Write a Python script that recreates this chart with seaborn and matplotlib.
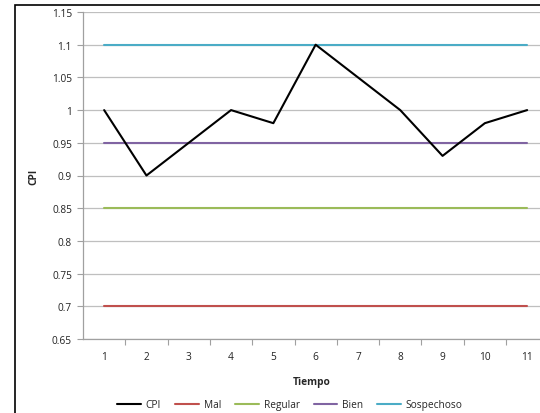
import matplotlib
matplotlib.use("Agg")
import matplotlib.pyplot as plt
from matplotlib.patches import Rectangle
import seaborn as sns
import pandas as pd

tiempo = [1, 2, 3, 4, 5, 6, 7, 8, 9, 10, 11]
cpi = [1.0, 0.9, 0.95, 1.0, 0.98, 1.1, 1.05, 1.0, 0.93, 0.98, 1.0]
mal = [0.7] * 11
regular = [0.85] * 11
bien = [0.95] * 11
sospechoso = [1.1] * 11

series_names = ["CPI", "Mal", "Regular", "Bien", "Sospechoso"]
series_values = [cpi, mal, regular, bien, sospechoso]
colors = ["#000000", "#C0504D", "#9BBB59", "#8064A2", "#4BACC6"]
y_ticks = [0.65, 0.7, 0.75, 0.8, 0.85, 0.9, 0.95, 1.0, 1.05, 1.1, 1.15]
y_tick_labels = ["0.65", "0.7", "0.75", "0.8", "0.85", "0.9", "0.95", "1", "1.05", "1.1", "1.15"]

rows = []
for name, vals in zip(series_names, series_values):
    for t, v in zip(tiempo, vals):
        rows.append({"Tiempo": t, "CPI": v, "Serie": name})
df = pd.DataFrame(rows)

sns.set_theme(style="white")
plt.rcParams["font.family"] = ["Open Sans", "DejaVu Sans"]

W, H = 540, 414
fig = plt.figure(figsize=(W / 100, H / 100), dpi=100)
ax = fig.add_axes([83 / W, 1 - 340 / H, 1 - 83 / W, (340 - 13) / H])

# draw the reference bands first, CPI on top
order = series_names[1:] + series_names[:1]
for name in order:
    sub = df[df["Serie"] == name]
    sns.lineplot(data=sub, x="Tiempo", y="CPI", ax=ax,
                 color=colors[series_names.index(name)], lw=1.5,
                 zorder=3 if name == "CPI" else 2, legend=False)

ax.set_xlim(0.5, 0.5 + (W - 83) / 42.3)
ax.set_ylim(0.65, 1.15)
ax.set_yticks(y_ticks)
ax.set_yticklabels(y_tick_labels)
ax.set_xticks(tiempo)
ax.set_xticklabels([str(t) for t in tiempo])
ax.set_xticks([t + 0.5 for t in tiempo[:-1]], minor=True)
ax.grid(axis="y", color="#BFBFBF", lw=0.9, zorder=0)
for s in ["top", "right"]:
    ax.spines[s].set_visible(False)
for s in ["left", "bottom"]:
    ax.spines[s].set_color("#A0A0A0")
    ax.spines[s].set_linewidth(0.9)
ax.tick_params(axis="y", which="major", length=4, width=0.8, color="#A0A0A0",
               labelsize=7.3, pad=4, left=True, labelcolor="#222222")
ax.tick_params(axis="x", which="major", length=0, labelsize=7.3, pad=9, labelcolor="#222222")
ax.tick_params(axis="x", which="minor", length=4, width=0.8, color="#A0A0A0", bottom=True)

ax.set_xlabel("Tiempo", fontsize=7.3, fontweight="bold", labelpad=10)
ax.set_ylabel("CPI", fontsize=7.3, fontweight="bold", labelpad=9)

handles = [plt.Line2D([], [], color=c, lw=1.5) for c in colors]
fig.legend(handles, series_names, loc="center", bbox_to_anchor=(290 / W, 1 - 406 / H),
           ncol=5, frameon=False, fontsize=7.3, handlelength=2.3, columnspacing=1.4,
           handletextpad=0.5)

# outer frame
fig.patches.append(Rectangle((15 / W, -0.1), 1.2, 1 - 6 / H + 0.1, transform=fig.transFigure,
                             fill=False, edgecolor="black", lw=1.2))

fig.savefig("out.png", dpi=100)
